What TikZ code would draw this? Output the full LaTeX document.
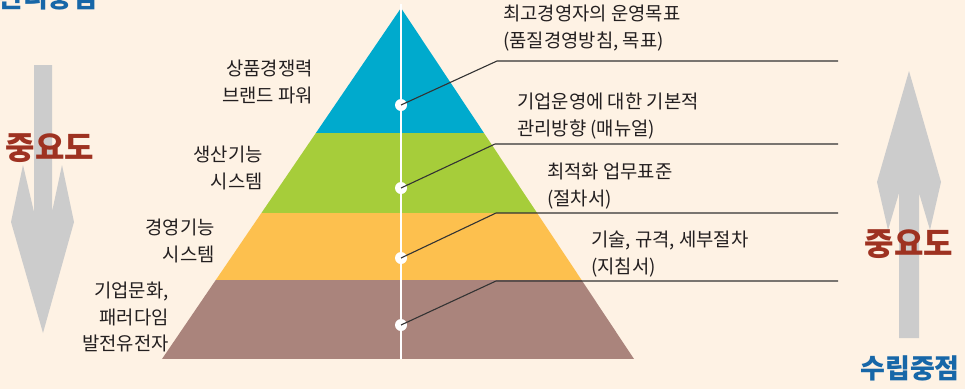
\documentclass[tikz,border=0pt]{standalone}
\usepackage{fontspec}
\setmainfont{Noto Sans CJK KR}
\usepackage{xcolor}
\definecolor{vcream}{HTML}{FEF2E4}
\definecolor{vblue}{HTML}{00AACD}
\definecolor{vgreen}{HTML}{A6CD3A}
\definecolor{vyellow}{HTML}{FDC04E}
\definecolor{vbrown}{HTML}{AA847C}
\definecolor{vgray}{HTML}{CCCCCC}
\definecolor{vred}{HTML}{9E3221}
\definecolor{vnavy}{HTML}{1767A8}
\definecolor{vdark}{HTML}{231F20}
\definecolor{vline}{HTML}{333333}
\tikzset{
	lbl/.style={font=\fontsize{18.8}{26.5}\selectfont, text=vdark, inner sep=0pt},
	big/.style={font=\fontsize{32}{34}\selectfont\bfseries, inner sep=0pt},
	head/.style={font=\fontsize{27}{30}\selectfont\bfseries, inner sep=0pt},
	dot/.style={circle, fill=white, inner sep=0pt, minimum size=12pt},
	leader/.style={color=vline, line width=1.1pt}
}

\begin{document}
\begin{tikzpicture}[x=1pt,y=-1pt]
		\clip (0,0) rectangle (965,389);
		\fill[vcream] (0,0) rectangle (965,389);
		\coordinate (top) at (401,8);
		\coordinate (bl) at (162,359);
		\coordinate (br) at (634,359);
		\begin{scope}
			\clip (top) -- (bl) -- (br) -- cycle;
			\fill[vblue] (150,0) rectangle (650,133);
			\fill[vgreen] (150,133) rectangle (650,213);
			\fill[vyellow] (150,213) rectangle (650,280);
			\fill[vbrown] (150,280) rectangle (650,359);
		\end{scope}
		\draw[color=white, line width=2.5pt] (401,4) -- (401,359);
		\node[dot] (d1) at (401,105) {};
		\node[dot] (d2) at (401,188) {};
		\node[dot] (d3) at (401,258) {};
		\node[dot] (d4) at (401,325) {};
		\coordinate (e1) at (497,61);
		\coordinate (e2) at (495,144);
		\coordinate (e3) at (496,213);
		\coordinate (e4) at (496,281);
		\coordinate (t1) at (838,61);
		\coordinate (t2) at (838,144);
		\coordinate (t3) at (838,213);
		\coordinate (t4) at (838,281);
		\draw[leader] (d1.center) -- (e1) -- (t1);
		\draw[leader] (d2.center) -- (e2) -- (t2);
		\draw[leader] (d3.center) -- (e3) -- (t3);
		\draw[leader] (d4.center) -- (e4) -- (t4);
		\node[lbl, anchor=west, align=left] (r1) at (503,28) {최고경영자의 운영목표\\(품질경영방침, 목표)};
		\node[lbl, anchor=west, align=left] (r2) at (517,116) {기업운영에 대한 기본적\\관리방향 (매뉴얼)};
		\node[lbl, anchor=west, align=left] (r3) at (547,186) {최적화 업무표준\\(절차서)};
		\node[lbl, anchor=west, align=left] (r4) at (591,254) {기술, 규격, 세부절차\\(지침서)};
		\node[lbl, anchor=east, align=right] (l1) at (313,82) {상품경쟁력\\브랜드 파워};
		\node[lbl, anchor=east, align=right] (l2) at (263,168) {생산기능\\시스템};
		\node[lbl, anchor=east, align=right] (l3) at (215,241) {경영기능\\시스템};
		\node[lbl, anchor=east, align=right] (l4) at (169,317) {기업문화,\\패러다임\\발전유전자};
		\fill[vgray] (34,65) -- (52,65) -- (52,212) -- (62,165) -- (74,222) -- (43,333) -- (11,222) -- (23,165) -- (34,212) -- cycle;
		\fill[vgray] (899,338) -- (899,193) -- (888,230) -- (877,182) -- (909,71) -- (941,182) -- (930,230) -- (919,193) -- (919,338) -- cycle;
		\node[big, text=vred] (imp1) at (50,148) {중요도};
		\node[big, text=vred] (imp2) at (909,244) {중요도};
		\node[head, text=vnavy] (mgmt) at (48,-3) {관리중점};
		\node[head, text=vnavy] (plan) at (910,368) {수립중점};
	\end{tikzpicture}
\end{document}
